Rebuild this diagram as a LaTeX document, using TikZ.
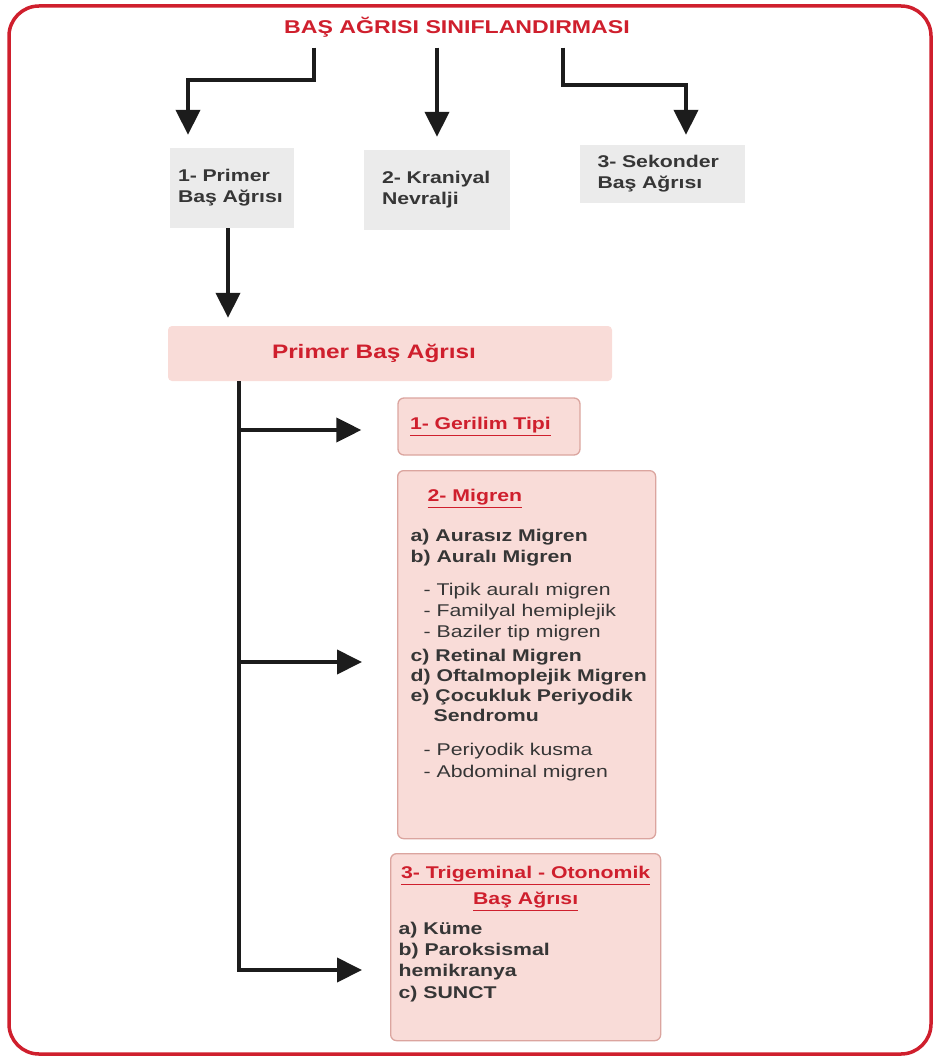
\documentclass[tikz,border=0pt]{standalone}
\usepackage{fontspec}
\setmainfont{Liberation Sans}[FakeStretch=1.25]
\usetikzlibrary{positioning,arrows.meta}
\definecolor{framered}{HTML}{CF1F2D}
\definecolor{greybox}{HTML}{EBEBEB}
\definecolor{pinkbox}{HTML}{F9DCD8}
\definecolor{pinkline}{HTML}{DBA59F}
\definecolor{bodytext}{HTML}{363636}
\definecolor{arrowink}{HTML}{1C1C1C}
\tikzset{
	flow/.style={
		-{Triangle[length=25pt,width=24pt]},
		line width=4pt,
		arrowink
	},
	spine/.style={
		line width=4pt,
		arrowink
	},
	catbox/.style={
		rectangle,
		fill=greybox,
		text=bodytext,
		font=\fontsize{17}{21}\selectfont\bfseries,
		align=left,
		minimum height=80pt,
		inner ysep=0pt
	},
	subbox/.style={
		rectangle,
		fill=pinkbox,
		draw=pinkline,
		line width=1.3pt,
		rounded corners=6pt,
		text=bodytext,
		font=\fontsize{17}{21}\selectfont\bfseries
	}
}
\newcommand{\redhead}[1]{\textcolor{framered}{\underline{#1}}}

\begin{document}
\begin{tikzpicture}[x=1pt,y=-1pt]
	\useasboundingbox (0,0) rectangle (936,1059);
	\draw[framered, line width=3.5pt, rounded corners=30pt] (9,6) rectangle (931,1054);

	%%% Nodes
	%% Header
	\node at (457,27) [text=framered, font=\fontsize{18.5}{20}\selectfont\bfseries] (title) {BAŞ AĞRISI SINIFLANDIRMASI};

	%% Categories
	\node at (232,188) [catbox, text width=108pt, inner xsep=8pt] (primer) {1- Primer\\Baş Ağrısı};
	\node at (437,190) [catbox, text width=110pt, inner xsep=18pt] (kraniyal) {2- Kraniyal\\Nevralji};
	\node at (662,174) [catbox, text width=129pt, inner xsep=18pt, minimum height=58pt] (sekonder) {3- Sekonder\\Baş Ağrısı};

	%% Primer group
	\node at (390,353.5) [rectangle, fill=pinkbox, rounded corners=4pt, minimum height=55pt,
		text width=236pt, inner xsep=104pt, align=left, text=framered,
		font=\fontsize{19.5}{22}\selectfont\bfseries] (primerbox) {Primer Baş Ağrısı};

	\node at (489,426.5) [subbox, minimum height=57pt, text width=158pt, inner xsep=12pt, align=left] (gerilim) {\redhead{1- Gerilim Tipi}};

	\node at (397,470) [subbox, anchor=north west, inner sep=0pt] (migren) {\parbox[t][368pt][t]{258pt}{%
		\raggedright\leftskip=13pt\relax
		\vspace*{19pt}%
		\hspace*{17pt}\redhead{2- Migren}\\[19pt]
		a) Aurasız Migren\\
		b) Auralı Migren\\[12pt]
		{\mdseries\hspace*{13pt}- Tipik auralı migren}\\
		{\mdseries\hspace*{13pt}- Familyal hemiplejik}\\
		{\mdseries\hspace*{13pt}- Baziler tip migren}\\[3pt]
		c) Retinal Migren\\[-1pt]
		d) Oftalmoplejik Migren\\[-1pt]
		e) Çocukluk Periyodik\\[-1pt]
		\hspace*{23pt}Sendromu\\[13pt]
		{\mdseries\hspace*{13pt}- Periyodik kusma}\\[1pt]
		{\mdseries\hspace*{13pt}- Abdominal migren}}};

	\node at (390,853) [subbox, anchor=north west, inner sep=0pt] (trigeminal) {\parbox[t][187pt][t]{270pt}{%
		\vspace*{13pt}%
		\centering\redhead{3- Trigeminal - Otonomik}\\[5pt]
		\redhead{Baş Ağrısı}\par
		\vspace{9pt}%
		\raggedright\leftskip=8pt\relax
		a) Küme\\
		b) Paroksismal\\
		hemikranya\\[1pt]
		c) SUNCT}};

	%%% Connections
	%% Header to categories
	\draw[flow, shorten <=7pt, shorten >=13pt] ([xshift=-143pt]title.south) |- (188,80) -- ([xshift=-44pt]primer.north);
	\draw[flow, shorten <=7pt, shorten >=13pt] (title.south -| kraniyal.north) -- (kraniyal.north);
	\draw[flow, shorten <=7pt, shorten >=10pt] ([xshift=106pt]title.south) |- (686,85) -- ([xshift=24pt]sekonder.north);

	%% Primer to its group
	\draw[flow, shorten >=8pt] ([xshift=-4pt]primer.south) -- ([xshift=-4pt]primer.south |- primerbox.north);

	\coordinate (fork1) at (239,430);
	\coordinate (fork2) at (239,662);
	\coordinate (fork3) at (239,970);
	\draw[spine] (primerbox.south -| fork1) -- ([yshift=-2pt]fork3);
	\draw[flow, shorten >=36pt] (fork1) -- (fork1 -| gerilim.west);
	\draw[flow, shorten >=35pt] (fork2) -- (fork2 -| migren.west);
	\draw[flow, shorten >=28pt] (fork3) -- (fork3 -| trigeminal.west);
\end{tikzpicture}
\end{document}
